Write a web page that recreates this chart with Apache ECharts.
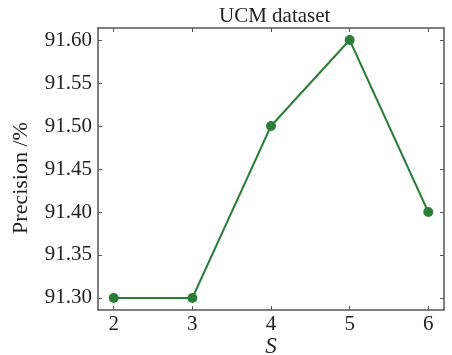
<!DOCTYPE html>
<html>
<head>
<meta charset="utf-8">
<script src="https://cdn.jsdelivr.net/npm/echarts@6/dist/echarts.min.js"></script>
<style>html,body{margin:0;padding:0;background:#fff}#c{width:452px;height:355px}</style>
</head>
<body>
<div id="c"></div>
<script>
var sValues = [2, 3, 4, 5, 6];
var precision = [91.30, 91.30, 91.50, 91.60, 91.40];
var xTicks = [2, 3, 4, 5, 6];
var yTicks = [91.30, 91.35, 91.40, 91.45, 91.50, 91.55, 91.60];
var titleText = 'UCM dataset';
var xName = 'S';
var yName = 'Precision /%';

var font = 'Liberation Serif';
var axisColor = '#555';
var textColor = '#222';
var chart = echarts.init(document.getElementById('c'));
function xAxisDef(pos, showLabel) {
  return {
    type: 'value', min: 1.8, max: 6.2, position: pos,
    axisLine: {lineStyle: {color: axisColor, width: 1.5}},
    axisTick: {inside: true, length: 4, customValues: xTicks, lineStyle: {color: axisColor}},
    axisLabel: {show: showLabel, customValues: xTicks, fontFamily: font, fontSize: 21, color: textColor, margin: 4},
    splitLine: {show: false}
  };
}
function yAxisDef(pos, showLabel) {
  return {
    type: 'value', min: 91.286, max: 91.614, position: pos,
    axisLine: {lineStyle: {color: axisColor, width: 1.5}},
    axisTick: {inside: true, length: 4, customValues: yTicks, lineStyle: {color: axisColor}},
    axisLabel: {show: showLabel, customValues: yTicks, fontFamily: font, fontSize: 21, color: textColor, margin: 6,
      formatter: function (v) { return v.toFixed(2); }},
    splitLine: {show: false}
  };
}
var xb = xAxisDef('bottom', true);
xb.name = xName; xb.nameLocation = 'middle'; xb.nameGap = 25; xb.nameMoveOverlap = false;
xb.nameTextStyle = {fontFamily: font, fontStyle: 'italic', fontSize: 23, color: textColor};
var yl = yAxisDef('left', true);
yl.name = yName; yl.nameLocation = 'middle'; yl.nameGap = 66; yl.nameMoveOverlap = false;
yl.nameTextStyle = {fontFamily: font, fontSize: 22, color: textColor, padding: [0, 18, 0, 0]};

chart.setOption({
  animation: false,
  backgroundColor: '#fff',
  title: {text: titleText, left: 214, top: 1, textStyle: {fontFamily: font, fontWeight: 'normal', fontSize: 21, color: textColor}},
  grid: {left: 98, right: 8, top: 28, bottom: 45, containLabel: false, outerBoundsMode: 'none'},
  xAxis: [xb, xAxisDef('top', false)],
  yAxis: [yl, yAxisDef('right', false)],
  series: [{
    type: 'line',
    data: sValues.map(function (s, i) { return [s, precision[i]]; }),
    symbol: 'circle', symbolSize: 10,
    lineStyle: {color: '#2b7d37', width: 2},
    itemStyle: {color: '#2b7d37'}
  }]
});
</script>
</body>
</html>
